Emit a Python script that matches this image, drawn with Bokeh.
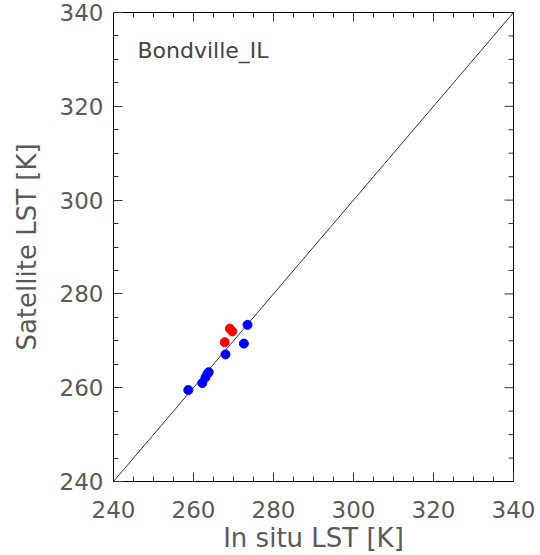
from bokeh.plotting import figure
from bokeh.models import Range1d, Label, FixedTicker
from bokeh.embed import file_html
from bokeh.resources import INLINE

# data
blue_x = [258.7, 262.2, 263.0, 263.5, 263.8, 268.0, 272.6, 273.5]
blue_y = [259.5, 261.0, 262.2, 263.0, 263.3, 267.1, 269.4, 273.4]
red_x = [267.8, 269.1, 269.7]
red_y = [269.7, 272.6, 272.0]
line_vals = [240, 340]
major_ticks = [240, 260, 280, 300, 320, 340]
minor_ticks = list(range(240, 341, 5))
station = "Bondville_IL"

FONT = "DejaVu Sans"
GRAY = "#5a5a5a"
XMIN, XMAX = 240, 340
FRAME_W, FRAME_H = 400, 469

p = figure(width=540, height=555, output_backend="svg", toolbar_location=None,
           x_range=Range1d(XMIN, XMAX), y_range=Range1d(XMIN, XMAX),
           min_border_left=113, min_border_right=27, min_border_top=12, min_border_bottom=74,
           x_axis_label="In situ LST [K]", y_axis_label="Satellite LST [K]")
p.outline_line_color = "black"
p.outline_line_width = 1
p.grid.visible = False
p.background_fill_color = "white"
p.border_fill_color = "white"

p.line(line_vals, line_vals, line_color="black", line_width=0.8)
p.scatter(blue_x, blue_y, size=9, fill_color="blue", line_color="blue")
p.scatter(red_x, red_y, size=9, fill_color="red", line_color="red")

for ax in p.axis:
    ax.ticker = FixedTicker(ticks=major_ticks, minor_ticks=minor_ticks)
    ax.major_tick_in = 9
    ax.major_tick_out = 0
    ax.minor_tick_in = 5
    ax.minor_tick_out = 0
    ax.axis_line_color = "black"
    ax.major_tick_line_color = "#333333"
    ax.minor_tick_line_color = "#333333"
    ax.major_label_text_font = FONT
    ax.major_label_text_font_size = "23px"
    ax.major_label_text_color = GRAY
    ax.axis_label_text_font = FONT
    ax.axis_label_text_font_size = "26px"
    ax.axis_label_text_color = GRAY
    ax.axis_label_text_font_style = "normal"

for ax in p.xaxis:
    ax.major_label_standoff = 19
    ax.axis_label_standoff = 2
for ax in p.yaxis:
    ax.major_label_standoff = 10
    ax.axis_label_standoff = 15

# ticks on top and right edges (drawn from the tick lists)
ux = (XMAX - XMIN) / FRAME_W   # data units per pixel (x)
uy = (XMAX - XMIN) / FRAME_H   # data units per pixel (y)
minor_only = [t for t in minor_ticks if t not in major_ticks]
tick_col = "#333333"
p.segment(x0=major_ticks, y0=[XMAX] * len(major_ticks), x1=major_ticks,
          y1=[XMAX - 9 * uy] * len(major_ticks), line_color=tick_col, line_width=1)
p.segment(x0=minor_only, y0=[XMAX] * len(minor_only), x1=minor_only,
          y1=[XMAX - 5 * uy] * len(minor_only), line_color=tick_col, line_width=1)
p.segment(x0=[XMAX] * len(major_ticks), y0=major_ticks, x1=[XMAX - 9 * ux] * len(major_ticks),
          y1=major_ticks, line_color=tick_col, line_width=1)
p.segment(x0=[XMAX] * len(minor_only), y0=minor_only, x1=[XMAX - 5 * ux] * len(minor_only),
          y1=minor_only, line_color=tick_col, line_width=1)

p.add_layout(Label(x=24, y=431, x_units="screen", y_units="screen", text=station,
                   text_font=FONT, text_font_size="22px", text_color="#444444",
                   text_baseline="middle"))

open("out.html", "w").write(file_html(p, INLINE))
